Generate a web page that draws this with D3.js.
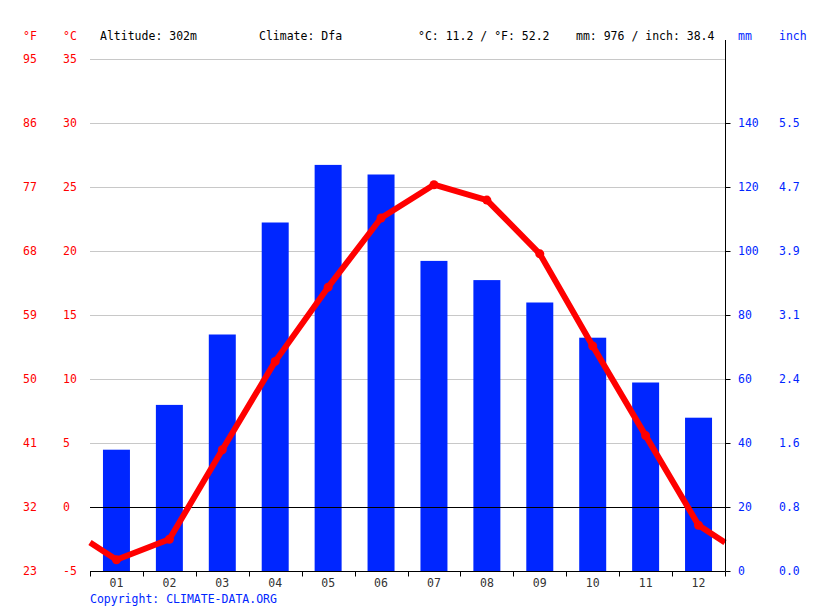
<!DOCTYPE html>
<html>
<head>
<meta charset="utf-8">
<script src="https://cdn.jsdelivr.net/npm/d3@7"></script>
<style>
  body { margin: 0; background: #fff; }
  text { font-family: "DejaVu Sans Mono", monospace; font-size: 11.5px; }
</style>
</head>
<body>
<div id="chart"></div>
<script>
const months = ["01", "02", "03", "04", "05", "06", "07", "08", "09", "10", "11", "12"];
const precipMm = [38, 52, 74, 109, 127, 124, 97, 91, 84, 73, 59, 48];
const tempC = [-4.1, -2.5, 4.5, 11.4, 17.2, 22.6, 25.2, 24.0, 19.8, 12.6, 5.6, -1.4];
// value where the line meets the left/right plot edge (between Dec and Jan)
const edgeTempC = -2.75;

const cTicks = [-5, 0, 5, 10, 15, 20, 25, 30, 35];
const fTickLabels = ["23", "32", "41", "50", "59", "68", "77", "86", "95"];
const mmTicks = [0, 20, 40, 60, 80, 100, 120, 140];
const inchTickLabels = ["0.0", "0.8", "1.6", "2.4", "3.1", "3.9", "4.7", "5.5"];

const headerItems = [
  { text: "Altitude: 302m", x: 100 },
  { text: "Climate: Dfa", x: 259 },
  { text: "°C: 11.2 / °F: 52.2", x: 418 },
  { text: "mm: 976 / inch: 38.4", x: 576 }
];

const red = "#ff0000";
const blue = "#0026ff";
const width = 815, height = 611;
const plotLeft = 90, plotRight = 725, plotTop = 59.3, plotBottom = 571.3;

const svg = d3.select("#chart").append("svg")
  .attr("width", width)
  .attr("height", height);

const x = d3.scaleBand().domain(months).range([plotLeft, plotRight]);
const yT = d3.scaleLinear().domain([-5, 35]).range([plotBottom, plotTop]);
const yP = d3.scaleLinear().domain([0, 160]).range([plotBottom, plotTop]);
const barW = x.bandwidth() * 0.51;

// grid lines
svg.append("g").selectAll("line").data(cTicks).enter().append("line")
  .attr("x1", plotLeft).attr("x2", plotRight)
  .attr("y1", d => Math.round(yT(d)) + 0.5).attr("y2", d => Math.round(yT(d)) + 0.5)
  .style("stroke", "#c8c8c8").style("stroke-width", 1);

// precipitation bars
svg.append("g").selectAll("rect").data(precipMm).enter().append("rect")
  .attr("x", (d, i) => x(months[i]) + (x.bandwidth() - barW) / 2)
  .attr("width", barW)
  .attr("y", d => yP(d))
  .attr("height", d => yP(0) - yP(d))
  .style("fill", blue);

// zero line
svg.append("line")
  .attr("x1", plotLeft).attr("x2", plotRight)
  .attr("y1", Math.round(yT(0)) + 0.5).attr("y2", Math.round(yT(0)) + 0.5)
  .style("stroke", "#000").style("stroke-width", 1);

// temperature line
const pts = [[plotLeft, edgeTempC]]
  .concat(tempC.map((t, i) => [x(months[i]) + x.bandwidth() / 2, t]))
  .concat([[plotRight, edgeTempC]]);
const line = d3.line().x(d => d[0]).y(d => yT(d[1]));
svg.append("path")
  .attr("d", line(pts))
  .style("fill", "none")
  .style("stroke", red)
  .style("stroke-width", 6)
  .style("stroke-linejoin", "round");
svg.append("g").selectAll("circle").data(tempC).enter().append("circle")
  .attr("cx", (d, i) => x(months[i]) + x.bandwidth() / 2)
  .attr("cy", d => yT(d))
  .attr("r", 4.5)
  .style("fill", red);

// bottom axis
const xAxis = d3.axisBottom(x).tickSize(0).tickPadding(7);
const gx = svg.append("g")
  .attr("transform", `translate(0,${Math.round(plotBottom) + 0.5})`)
  .call(xAxis);
gx.select(".domain").attr("d", `M${plotLeft},0H${plotRight}`).style("stroke", "#000");
gx.selectAll("text").style("fill", "#333").style("font-size", "11.5px")
  .style("font-family", "DejaVu Sans Mono, monospace");
gx.selectAll(".bnd").data(d3.range(months.length + 1)).enter().append("line")
  .attr("x1", i => Math.round(plotLeft + i * x.step()) + 0.5)
  .attr("x2", i => Math.round(plotLeft + i * x.step()) + 0.5)
  .attr("y1", 0).attr("y2", 5)
  .style("stroke", "#000");

// right axis
const gr = svg.append("g").attr("transform", `translate(${plotRight + 0.5},0)`);
gr.append("line").attr("y1", 40).attr("y2", Math.round(plotBottom) + 0.5).style("stroke", "#000");
gr.selectAll(".tk").data(mmTicks).enter().append("line")
  .attr("x1", 0).attr("x2", 5)
  .attr("y1", d => Math.round(yP(d)) + 0.5).attr("y2", d => Math.round(yP(d)) + 0.5)
  .style("stroke", "#000");

// tick labels
svg.append("g").selectAll("text").data(cTicks).enter().append("text")
  .attr("x", 63).attr("y", d => yT(d)).attr("dy", "0.35em")
  .style("fill", red).text(d => d);
svg.append("g").selectAll("text").data(fTickLabels).enter().append("text")
  .attr("x", 23).attr("y", (d, i) => yT(cTicks[i])).attr("dy", "0.35em")
  .style("fill", red).text(d => d);
svg.append("g").selectAll("text").data(mmTicks).enter().append("text")
  .attr("x", 738).attr("y", d => yP(d)).attr("dy", "0.35em")
  .style("fill", blue).text(d => d);
svg.append("g").selectAll("text").data(inchTickLabels).enter().append("text")
  .attr("x", 779).attr("y", (d, i) => yP(mmTicks[i])).attr("dy", "0.35em")
  .style("fill", blue).text(d => d);

// unit headers
const units = [
  { text: "°F", x: 23, c: red },
  { text: "°C", x: 63, c: red },
  { text: "mm", x: 738, c: blue },
  { text: "inch", x: 779, c: blue }
];
svg.append("g").selectAll("text").data(units).enter().append("text")
  .attr("x", d => d.x).attr("y", 40)
  .style("fill", d => d.c).text(d => d.text);

svg.append("g").selectAll("text").data(headerItems).enter().append("text")
  .attr("x", d => d.x).attr("y", 40)
  .style("fill", "#000").text(d => d.text);

svg.append("text")
  .attr("x", 90).attr("y", 603)
  .style("fill", blue).text("Copyright: CLIMATE-DATA.ORG");
</script>
</body>
</html>
